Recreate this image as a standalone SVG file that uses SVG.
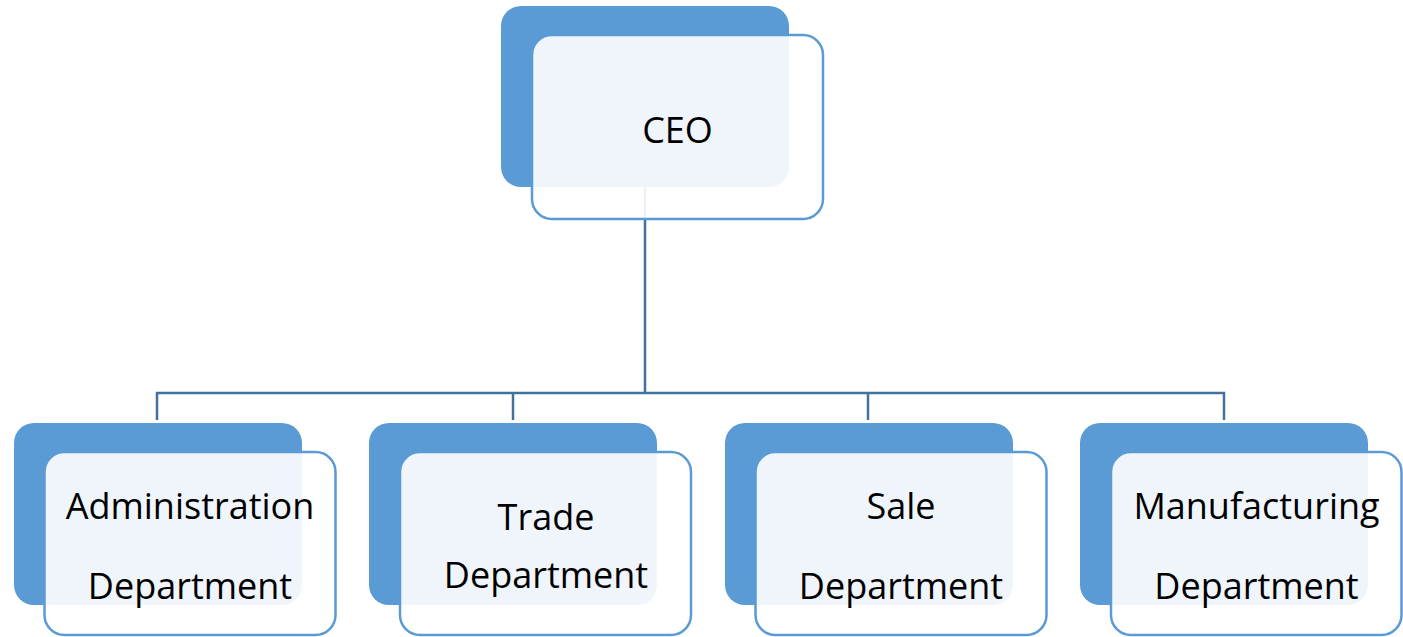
<svg xmlns="http://www.w3.org/2000/svg" width="1403" height="637" viewBox="0 0 1403 637">
<style>
.back{fill:#5B9BD5;}
.front{fill:#FFFFFF;fill-opacity:0.9;stroke:#5B9BD5;stroke-width:2.5;}
.conn{fill:none;stroke:#41719C;stroke-width:2.5;}
.lbl{font-family:"Open Sans","Noto Sans",sans-serif;font-size:36px;fill:#000;text-anchor:middle;}
</style>
<rect width="1403" height="637" fill="#FFFFFF"/>
<g id="backs">
<rect class="back" x="501" y="6" width="288" height="181" rx="20"/>
<rect class="back" x="14" y="423" width="288" height="182" rx="20"/>
<rect class="back" x="369" y="423" width="288" height="182" rx="20"/>
<rect class="back" x="725" y="423" width="288" height="182" rx="20"/>
<rect class="back" x="1080" y="423" width="288" height="182" rx="20"/>
</g>
<g id="connectors">
<path class="conn" d="M645,187 V393"/>
<path class="conn" d="M157,420 V393 H1224 V420"/>
<path class="conn" d="M513,393 V420"/>
<path class="conn" d="M868,393 V420"/>
</g>
<g id="ceo">
<rect class="front" x="532" y="35" width="291" height="184" rx="20"/>
<text class="lbl" x="677.5" y="143">CEO</text>
</g>
<g id="admin">
<rect class="front" x="44.5" y="452" width="291" height="183" rx="20"/>
<text class="lbl" x="190" y="519">Administration</text>
<text class="lbl" x="190" y="599">Department</text>
</g>
<g id="trade">
<rect class="front" x="400" y="452" width="291" height="183" rx="20"/>
<text class="lbl" x="546" y="530">Trade</text>
<text class="lbl" x="546" y="588">Department</text>
</g>
<g id="sale">
<rect class="front" x="755.5" y="452" width="291" height="183" rx="20"/>
<text class="lbl" x="901" y="519">Sale</text>
<text class="lbl" x="901" y="599">Department</text>
</g>
<g id="manufacturing">
<rect class="front" x="1111" y="452" width="290.5" height="183" rx="20"/>
<text class="lbl" x="1256.5" y="519">Manufacturing</text>
<text class="lbl" x="1256.5" y="599">Department</text>
</g>
</svg>
